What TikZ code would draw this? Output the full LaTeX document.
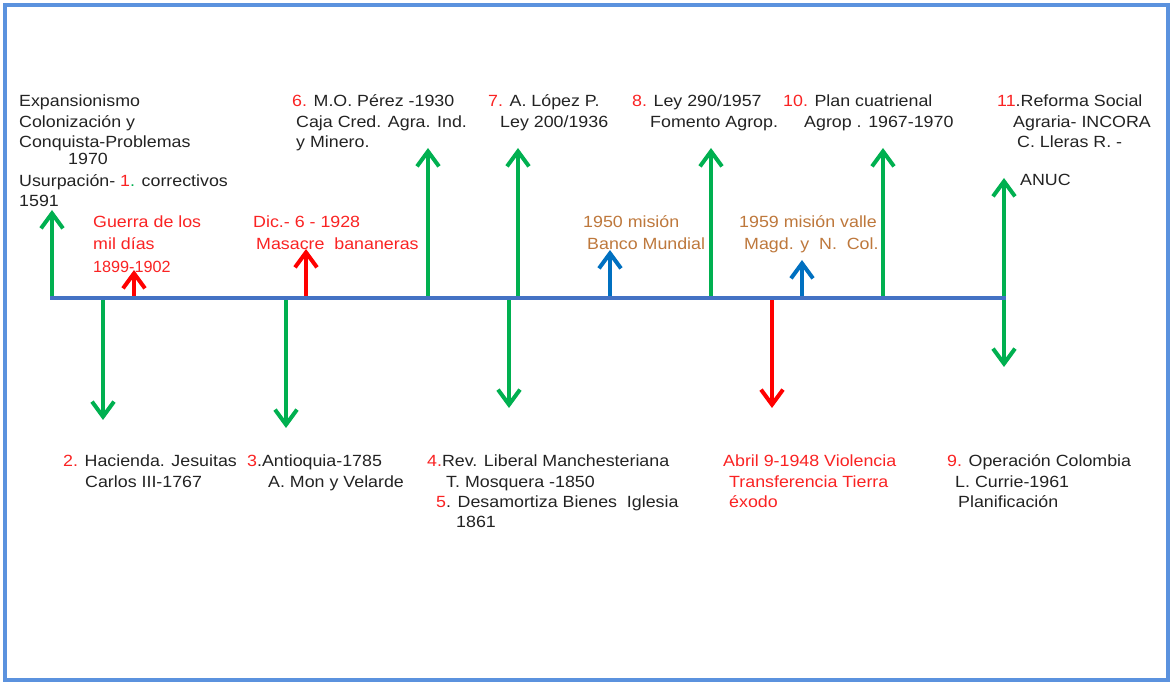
\documentclass[tikz,border=0pt]{standalone}
\usepackage{fontspec}
\setmainfont{Liberation Sans}[FakeStretch=1.1]
\newfontfamily\plainfont{Liberation Sans}
\usetikzlibrary{arrows.meta}
\definecolor{ink}{RGB}{35,35,35}
\definecolor{rtext}{RGB}{250,35,35}
\definecolor{btext}{RGB}{190,120,60}
\definecolor{garr}{RGB}{0,176,80}
\definecolor{rarr}{RGB}{255,0,0}
\definecolor{barr}{RGB}{0,112,192}
\definecolor{tline}{RGB}{68,114,196}
\definecolor{frameblue}{RGB}{91,146,222}
\newcommand{\rn}[1]{\textcolor{rtext}{#1}}
\tikzset{
  txt/.style={anchor=base west, inner sep=0pt, text=ink, font=\fontsize{16.2}{20}\selectfont},
  rtxt/.style={txt, text=rtext},
  btxt/.style={txt, text=btext},
  arr/.style={line width=4pt, -{Straight Barb[length=15pt,width=22pt]}},
  garrow/.style={arr, draw=garr},
  rarrow/.style={arr, draw=rarr},
  barrow/.style={arr, draw=barr},
  darrow/.style={line width=4pt, draw=garr, {Straight Barb[length=15pt,width=22pt]}-{Straight Barb[length=15pt,width=22pt]}},
  tl/.style={line width=4pt, draw=tline},
  border/.style={line width=4pt, draw=frameblue}
}
\begin{document}
\begin{tikzpicture}[x=1pt,y=-1pt]
\useasboundingbox (0,0) rectangle (1173,684);
\fill[white] (0,0) rectangle (1173,684);
\coordinate (F0) at (5,5);
\coordinate (F1) at (1168,680);
\draw[border] (F0) rectangle (F1);

% arrows
\coordinate (g1b) at (52,300);  \coordinate (g1t) at (52,210);
\coordinate (r1b) at (134,298); \coordinate (r1t) at (134,270);
\coordinate (r2b) at (306,298); \coordinate (r2t) at (306,249);
\coordinate (g6b) at (428,298); \coordinate (g6t) at (428,148);
\coordinate (g7b) at (518,298); \coordinate (g7t) at (518,148);
\coordinate (b1b) at (610,298); \coordinate (b1t) at (610,250);
\coordinate (g8b) at (711,298); \coordinate (g8t) at (711,148);
\coordinate (b2b) at (802,298); \coordinate (b2t) at (802,260);
\coordinate (g10b) at (883,298); \coordinate (g10t) at (883,148);
\coordinate (g11t) at (1004,178); \coordinate (g11d) at (1004,367);
\coordinate (g2b) at (103,298); \coordinate (g2t) at (103,420);
\coordinate (g3b) at (286,298); \coordinate (g3t) at (286,428);
\coordinate (g4b) at (509,298); \coordinate (g4t) at (509,408);
\coordinate (r3b) at (772,298); \coordinate (r3t) at (772,408);

\draw[garrow] (g1b) -- (g1t);
\draw[rarrow] (r1b) -- (r1t);
\draw[rarrow] (r2b) -- (r2t);
\draw[garrow] (g6b) -- (g6t);
\draw[garrow] (g7b) -- (g7t);
\draw[barrow] (b1b) -- (b1t);
\draw[garrow] (g8b) -- (g8t);
\draw[barrow] (b2b) -- (b2t);
\draw[garrow] (g10b) -- (g10t);
\draw[darrow] (g11t) -- (g11d);
\draw[garrow] (g2b) -- (g2t);
\draw[garrow] (g3b) -- (g3t);
\draw[garrow] (g4b) -- (g4t);
\draw[rarrow] (r3b) -- (r3t);

% timeline
\coordinate (L0) at (50,298);
\coordinate (L1) at (1006,298);
\draw[tl] (L0) -- (L1);

% block 1
\node[txt] (a1) at (19,107) {Expansionismo};
\node[txt] (a2) at (19,128) {Colonización y};
\node[txt] (a3) at (19,148) {Conquista-Problemas};
\node[txt] (a4) at (68,165) {1970};
\node[txt] (a5) at (19,187) {Usurpación- \rn{1}\textcolor{garr}{.} correctivos};
\node[txt] (a6) at (19,207) {1591};

% red upper labels
\node[rtxt] (gu1) at (93,228) {Guerra de los};
\node[rtxt] (gu2) at (93,250) {mil días};
\node[rtxt, font=\plainfont\fontsize{16.2}{20}\selectfont] (gu3) at (93,273) {1899-1902};
\node[rtxt] (di1) at (253,228) {Dic.- 6 - 1928};
\node[rtxt] (di2) at (256,250) {Masacre\ \ bananeras};

% top labels
\node[txt] (p1) at (292,107) {\rn{6.} M.O. Pérez -1930};
\node[txt] (p2) at (296,128) {Caja Cred. Agra. Ind.};
\node[txt] (p3) at (296,148) {y Minero.};
\node[txt] (l1) at (488,107) {\rn{7.} A. López P.};
\node[txt] (l2) at (500,128) {Ley 200/1936};
\node[txt] (y1) at (632,107) {\rn{8.} Ley 290/1957};
\node[txt] (y2) at (650,128) {Fomento Agrop.};
\node[txt] (c1) at (783,107) {\rn{10.} Plan cuatrienal};
\node[txt] (c2) at (804,128) {Agrop . 1967-1970};
\node[txt] (s1) at (997,107) {\rn{11}.Reforma Social};
\node[txt] (s2) at (1013,128) {Agraria- INCORA};
\node[txt] (s3) at (1017,148) {C. Lleras R. -};
\node[txt] (s4) at (1020,186) {ANUC};

% brown labels
\node[btxt] (m1) at (583,228) {1950 misión};
\node[btxt] (m2) at (587,250) {Banco Mundial};
\node[btxt] (v1) at (739,228) {1959 misión valle};
\node[btxt] (v2) at (744,250) {Magd. y\ \ N.\ \ Col.};

% bottom labels
\node[txt] (h1) at (63,466) {\rn{2.} Hacienda. Jesuitas};
\node[txt] (h2) at (85,487) {Carlos III-1767};
\node[txt] (an1) at (247,466) {\rn{3}.Antioquia-1785};
\node[txt] (an2) at (268,487) {A. Mon y Velarde};
\node[txt] (rv1) at (427,466) {\rn{4.}Rev. Liberal Manchesteriana};
\node[txt] (rv2) at (446,487) {T. Mosquera -1850};
\node[txt] (rv3) at (436,507) {\rn{5}. Desamortiza Bienes\ \ Iglesia};
\node[txt] (rv4) at (456,527) {1861};
\node[rtxt] (ab1) at (723,466) {Abril 9-1948 Violencia};
\node[rtxt] (ab2) at (729,487) {Transferencia Tierra};
\node[rtxt] (ab3) at (729,507) {éxodo};
\node[txt] (op1) at (947,466) {\rn{9.} Operación Colombia};
\node[txt] (op2) at (955,487) {L. Currie-1961};
\node[txt] (op3) at (958,507) {Planificación};
\end{tikzpicture}
\end{document}
